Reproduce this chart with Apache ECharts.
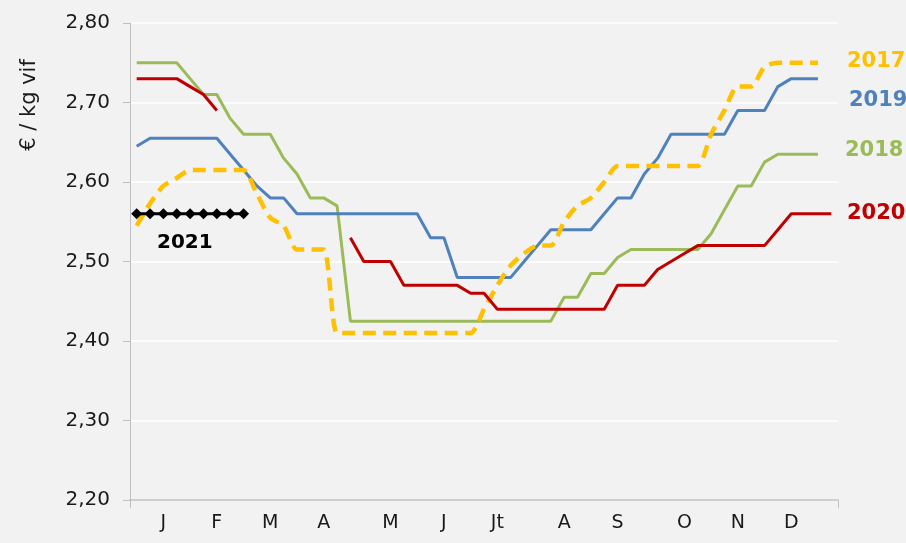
<!DOCTYPE html>
<html>
<head>
<meta charset="utf-8">
<script src="https://cdn.jsdelivr.net/npm/echarts@6/dist/echarts.min.js"></script>
<style>
html,body{margin:0;padding:0;background:#f2f2f2;}
#chart{width:906px;height:543px;}
</style>
</head>
<body>
<div id="chart"></div>
<script>
// Weeks 1..53
var weeks = [];
for (var w = 1; w <= 53; w++) weeks.push(String(w));

var monthLabels = ['J','F','M','A','M','J','Jt','A','S','O','N','D'];
var monthWeekIdx = [2,6,10,14,19,23,27,32,36,41,45,49];

var yTicks = [2.20, 2.30, 2.40, 2.50, 2.60, 2.70, 2.80];

var s2017 = [2.545,2.573,2.595,2.605,2.615,2.615,2.615,2.615,2.615,2.585,2.555,2.545,2.515,2.515,2.515,2.41,
  2.41,2.41,2.41,2.41,2.41,2.41,2.41,2.41,2.41,2.41,2.44,2.47,2.495,2.51,2.52,2.52,2.55,2.57,2.58,2.60,
  2.62,2.62,2.62,2.62,2.62,2.62,2.62,2.66,2.69,2.72,2.72,2.745,2.75,2.75,2.75,2.75,null];

var s2018 = [2.75,2.75,2.75,2.75,2.73,2.71,2.71,2.68,2.66,2.66,2.66,2.63,2.61,2.58,2.58,2.57,
  2.425,2.425,2.425,2.425,2.425,2.425,2.425,2.425,2.425,2.425,2.425,2.425,2.425,2.425,2.425,2.425,
  2.455,2.455,2.485,2.485,2.505,2.515,2.515,2.515,2.515,2.515,2.515,2.535,2.565,2.595,2.595,2.625,
  2.635,2.635,2.635,2.635,null];

var s2019 = [2.645,2.655,2.655,2.655,2.655,2.655,2.655,2.635,2.615,2.595,2.58,2.58,2.56,2.56,2.56,2.56,
  2.56,2.56,2.56,2.56,2.56,2.56,2.53,2.53,2.48,2.48,2.48,2.48,2.48,2.50,2.52,2.54,2.54,2.54,2.54,2.56,
  2.58,2.58,2.61,2.63,2.66,2.66,2.66,2.66,2.66,2.69,2.69,2.69,2.72,2.73,2.73,2.73,null];

var s2020 = [2.73,2.73,2.73,2.73,2.72,2.71,2.69,null,null,null,null,null,null,null,null,null,
  2.53,2.50,2.50,2.50,2.47,2.47,2.47,2.47,2.47,2.46,2.46,2.44,2.44,2.44,2.44,2.44,2.44,2.44,2.44,2.44,
  2.47,2.47,2.47,2.49,2.50,2.51,2.52,2.52,2.52,2.52,2.52,2.52,2.54,2.56,2.56,2.56,2.56];

var s2021 = [2.56,2.56,2.56,2.56,2.56,2.56,2.56,2.56,2.56];

var font = 'DejaVu Sans';
var chart = echarts.init(document.getElementById('chart'));
chart.setOption({
  backgroundColor: '#f2f2f2',
  animation: false,
  grid: {left: 130, right: 68, top: 23, bottom: 43, containLabel: false},
  xAxis: [{
    type: 'category',
    data: weeks,
    boundaryGap: true,
    axisLine: {lineStyle: {color: '#bfbfbf', width: 1.5}},
    axisTick: {show: false},
    axisLabel: {
      interval: function (i) { return monthWeekIdx.indexOf(i) >= 0; },
      formatter: function (v, i) { var k = monthWeekIdx.indexOf(i); return k >= 0 ? monthLabels[k] : ''; },
      color: '#1a1a1a', fontSize: 19, fontFamily: font, margin: 14
    },
    splitLine: {show: false}
  }, {
    type: 'value',
    position: 'bottom',
    min: 0, max: weeks.length, interval: weeks.length,
    axisLine: {show: false},
    axisTick: {show: true, length: 8, lineStyle: {color: '#bfbfbf'}},
    axisLabel: {show: false},
    splitLine: {show: false}
  }],
  yAxis: {
    type: 'value',
    min: yTicks[0], max: yTicks[yTicks.length - 1], interval: 0.1,
    axisLine: {show: true, lineStyle: {color: '#bfbfbf', width: 1}},
    axisTick: {show: true, length: 7, lineStyle: {color: '#bfbfbf'}},
    axisLabel: {
      formatter: function (v) { return v.toFixed(2).replace('.', ','); },
      color: '#1a1a1a', fontSize: 20, fontFamily: font, margin: 20
    },
    splitLine: {lineStyle: {color: '#ffffff', width: 1.5}}
  },
  series: [
    {name: '2018', type: 'line', data: s2018, symbol: 'none', lineStyle: {color: '#9bbb59', width: 3}, itemStyle: {color: '#9bbb59'}},
    {name: '2019', type: 'line', data: s2019, symbol: 'none', lineStyle: {color: '#4f81bd', width: 3}, itemStyle: {color: '#4f81bd'}},
    {name: '2017', type: 'line', data: s2017, symbol: 'none', smooth: 0.25,
      lineStyle: {color: '#ffc000', width: 4.5, type: [13, 7.5]}, itemStyle: {color: '#ffc000'}},
    {name: '2020', type: 'line', data: s2020, symbol: 'none', connectNulls: false, lineStyle: {color: '#c00000', width: 3}, itemStyle: {color: '#c00000'}},
    {name: '2021', type: 'line', data: s2021, symbol: 'diamond', symbolSize: 11, showAllSymbol: true,
      lineStyle: {color: '#000000', width: 3}, itemStyle: {color: '#000000'}}
  ],
  graphic: [
    {type: 'text', x: 30, y: 105, rotation: Math.PI / 2,
      style: {text: '€ / kg vif', font: '21px "DejaVu Sans"', fill: '#1a1a1a', textAlign: 'center', textVerticalAlign: 'middle'}},
    {type: 'text', x: 847, y: 62, style: {text: '2017', font: 'bold 21px "DejaVu Sans"', fill: '#ffc000', textAlign: 'left', textVerticalAlign: 'middle'}},
    {type: 'text', x: 849, y: 101, style: {text: '2019', font: 'bold 21px "DejaVu Sans"', fill: '#4f81bd', textAlign: 'left', textVerticalAlign: 'middle'}},
    {type: 'text', x: 845, y: 151, style: {text: '2018', font: 'bold 21px "DejaVu Sans"', fill: '#9bbb59', textAlign: 'left', textVerticalAlign: 'middle'}},
    {type: 'text', x: 847, y: 214, style: {text: '2020', font: 'bold 21px "DejaVu Sans"', fill: '#c00000', textAlign: 'left', textVerticalAlign: 'middle'}},
    {type: 'text', x: 157, y: 243, style: {text: '2021', font: 'bold 20px "DejaVu Sans"', fill: '#000000', textAlign: 'left', textVerticalAlign: 'middle'}}
  ]
});
</script>
</body>
</html>
